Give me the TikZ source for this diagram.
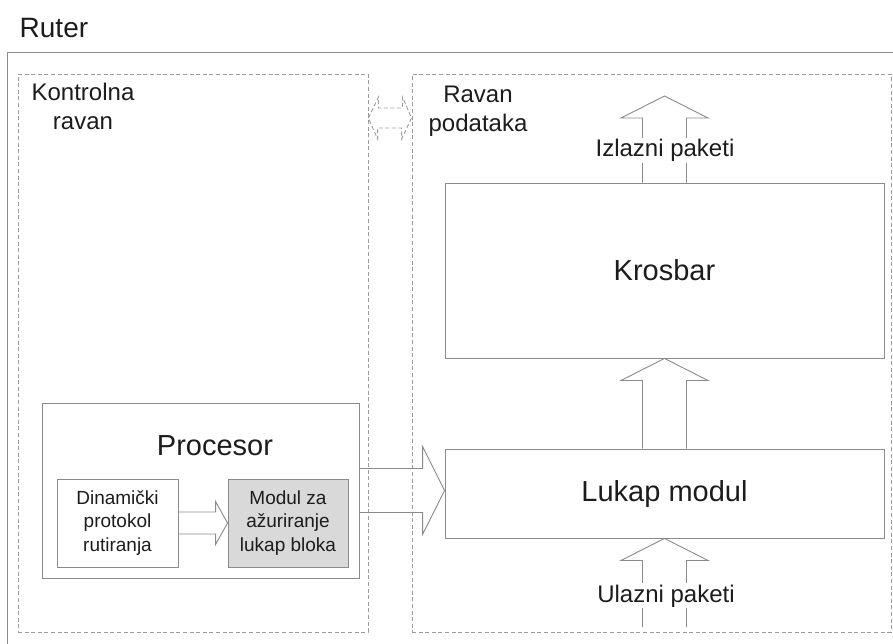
\documentclass[tikz,border=0pt]{standalone}
\usepackage{fontspec}
\setmainfont{Liberation Sans}
\usetikzlibrary{calc}

\definecolor{boxline}{HTML}{8A8A8A}
\definecolor{planeline}{HTML}{9C9C9C}
\definecolor{modfill}{HTML}{D9D9D9}
\definecolor{ink}{HTML}{1C1C1C}

% Upward block arrow: #1 bottom point, #2 tip, #3 shaft half-width,
% #4 head half-width, #5 head length
\newcommand\upblock[5]{%
  \draw[blockline] ($(#1)+(-#3,0)$) -- ($(#2)+(-#3,#5)$) -- ($(#2)+(-#4,#5)$)
    -- (#2) -- ($(#2)+(#4,#5)$) -- ($(#2)+(#3,#5)$) -- ($(#1)+(#3,0)$);}
% Rightward block arrow: #1 start point, #2 tip, same widths as above
\newcommand\rightblock[5]{%
  \draw[blockline] ($(#1)+(0,-#3)$) -- ($(#2)+(-#5,-#3)$) -- ($(#2)+(-#5,-#4)$)
    -- (#2) -- ($(#2)+(-#5,#4)$) -- ($(#2)+(-#5,#3)$) -- ($(#1)+(0,#3)$);}

\tikzset{
  blockline/.style={draw=boxline, line width=0.9pt, line join=miter},
  solidbox/.style={draw=boxline, line width=0.9pt, inner sep=0pt, text=ink},
  planebox/.style={draw=planeline, line width=0.9pt, dash pattern=on 4pt off 2.6pt, inner sep=0pt},
  bigtext/.style={font=\fontsize{29}{33}\selectfont, text=ink},
  midtext/.style={font=\fontsize{24}{29}\selectfont, text=ink, align=center},
  smalltext/.style={font=\fontsize{19}{23.5}\selectfont, text=ink, align=center},
}

\begin{document}
\begin{tikzpicture}[x=1pt, y=-1pt]
  \useasboundingbox (0,0) rectangle (893,644);
  \clip (0,0) rectangle (893,644);

  % outer router frame and its title
  \node[solidbox, minimum width=898pt, minimum height=608pt, anchor=north west] (router) at (7,52) {};
  \node[font=\fontsize{28}{32}\selectfont, text=ink, anchor=base west, inner sep=0pt] (title) at (19.5,38) {Ruter};

  % control plane and data plane
  \node[planebox, minimum width=350pt, minimum height=558pt] (ctrl) at (193,353) {};
  \node[planebox, minimum width=479pt, minimum height=558pt] (data) at (651.5,353) {};
  \node[midtext, anchor=north, inner sep=0pt] (ctrllabel) at (83,82.5) {Kontrolna\\ravan};
  \node[midtext, anchor=north, inner sep=0pt] (datalabel) at (478,85.5) {Ravan\\podataka};

  % dashed double arrow between the planes
  \draw[planeline, line width=0.9pt, dash pattern=on 4pt off 2.6pt]
    (ctrl.east |- 0,118) -- ++(10,-21) -- ++(0,11) -- ++(24,0) -- ++(0,-11)
    -- (data.west |- 0,118) -- ++(-10,21) -- ++(0,-11) -- ++(-24,0) -- ++(0,11) -- cycle;

  % data plane blocks
  \node[solidbox, bigtext, minimum width=439pt, minimum height=175pt] (krosbar) at (664.5,270.5) {Krosbar};
  \node[solidbox, bigtext, minimum width=439pt, minimum height=89pt] (lukap) at (664.5,493.5) {Lukap modul};

  % processor with its two inner blocks
  \node[solidbox, minimum width=317pt, minimum height=175pt] (proc) at (200.5,490.5) {};
  \node[bigtext, anchor=base, inner sep=0pt] (proclabel) at (215,455) {Procesor};
  \node[solidbox, smalltext, minimum width=121pt, minimum height=88pt] (dyn) at (117.5,523) {Dinamički\\protokol\\rutiranja};
  \node[solidbox, smalltext, fill=modfill, minimum width=120pt, minimum height=88pt] (mod) at (288,523) {Modul za\\ažuriranje\\lukap bloka};

  % block arrows
  \coordinate (outtip) at (664.5,96);
  \coordinate (inbase) at (664.5,627);
  \coordinate (modtip) at (mod.west |- dyn.east);
  \coordinate (proctip) at (lukap.west |- proc.east);
  \upblock{krosbar.north}{outtip}{22}{43.5}{22}
  \upblock{lukap.north}{krosbar.south}{22}{43.5}{22}
  \upblock{inbase}{lukap.south}{22}{43.5}{22}
  \rightblock{dyn.east}{modtip}{11}{21.5}{12}
  \rightblock{proc.east}{proctip}{22}{44}{22}

  % labels on the packet arrows
  \node[midtext, fill=white, inner sep=1.5pt, anchor=base] (outlabel) at (665,157) {Izlazni paketi};
  \node[midtext, fill=white, inner sep=1.5pt, anchor=base] (inlabel) at (666,602) {Ulazni paketi};
\end{tikzpicture}
\end{document}
